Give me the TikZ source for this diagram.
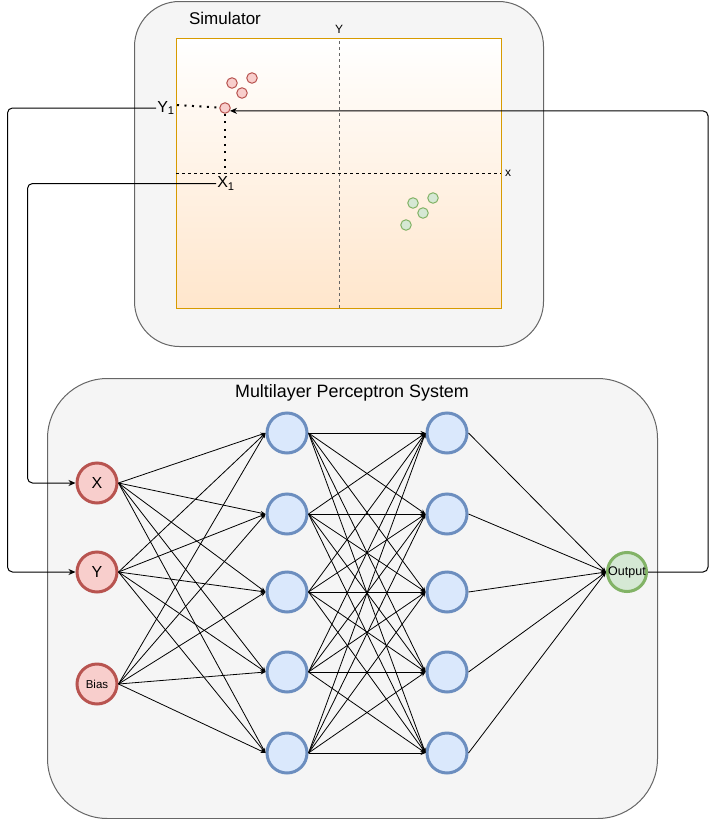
\documentclass[tikz,border=0pt]{standalone}
\usepackage{fontspec}
\setmainfont{Liberation Sans}
\usetikzlibrary{arrows.meta, positioning}
\definecolor{panelfill}{HTML}{F5F5F5}
\definecolor{panelline}{HTML}{666666}
\definecolor{plotline}{HTML}{D79B00}
\definecolor{plotfill}{HTML}{FFE6CC}
\definecolor{redfill}{HTML}{F8CECC}
\definecolor{redline}{HTML}{B85450}
\definecolor{bluefill}{HTML}{DAE8FC}
\definecolor{blueline}{HTML}{6C8EBF}
\definecolor{greenfill}{HTML}{D5E8D4}
\definecolor{greenline}{HTML}{82B366}

\begin{document}
\begin{tikzpicture}[
  x=1pt, y=-1pt,
  panel/.style={rectangle, draw=panelline, fill=panelfill, line width=1pt,
                anchor=north west, inner sep=0pt},
  title/.style={font=\fontsize{17}{20}\selectfont},
  lbl/.style={font=\fontsize{16}{19}\selectfont, inner sep=1pt},
  axlbl/.style={font=\fontsize{12}{14}\selectfont, inner sep=1pt},
  axis/.style={line width=1pt, dash pattern=on 3pt off 3pt},
  guide/.style={line width=2pt, dash pattern=on 2pt off 5.5pt},
  redpt/.style={circle, draw=redline, fill=redfill, line width=1pt,
                minimum size=10.5pt, inner sep=0pt},
  greenpt/.style={circle, draw=greenline, fill=greenfill, line width=1pt,
                  minimum size=10.5pt, inner sep=0pt},
  innode/.style={circle, draw=redline, fill=redfill, line width=3pt,
                 minimum size=40pt, inner sep=0pt, font=\fontsize{16}{19}\selectfont},
  hidnode/.style={circle, draw=blueline, fill=bluefill, line width=3pt,
                  minimum size=40pt, inner sep=0pt},
  outnode/.style={circle, draw=greenline, fill=greenfill, line width=3pt,
                  minimum size=39pt, inner sep=0pt, font=\fontsize{12.5}{14}\selectfont},
  arr/.style={-{Stealth[length=5pt, width=4pt]}, line width=0.8pt},
  feed/.style={-{Stealth[length=7pt, width=6pt]}, line width=1pt, rounded corners=5pt},
]
\useasboundingbox (0,0) rectangle (717,819);

% Simulator panel
\node[panel, rounded corners=45pt, minimum width=409pt, minimum height=345pt]
  (sim) at (134,1) {};
\node[title] (simtitle) at (225,18) {Simulator};
\node[rectangle, draw=plotline, line width=1pt, top color=white, bottom color=plotfill,
      anchor=north west, inner sep=0pt, minimum width=325pt, minimum height=270pt]
  (plot) at (176,38) {};

% Axes
\draw[axis, panelline] (339,41) -- (339,308);
\draw[axis] (176,173) -- (501,173);
\node[axlbl] (ylbl) at (339,29) {Y};
\node[axlbl] (xlbl) at (508,173) {x};

% Samples
\node[redpt] (r1) at (232,83) {};
\node[redpt] (r2) at (252,78) {};
\node[redpt] (r3) at (242,93) {};
\node[redpt] (r4) at (225,108) {};
\node[greenpt] (g1) at (413,203) {};
\node[greenpt] (g2) at (433,198) {};
\node[greenpt] (g3) at (423,213) {};
\node[greenpt] (g4) at (406,225) {};

% Coordinates of the sample
\node[lbl] (ylab) at (166,108) {Y\textsubscript{1}};
\node[lbl] (xlab) at (226,183.5) {X\textsubscript{1}};
\draw[guide] (177,105) -- (r4);
\draw[guide] (r4) -- (r4 |- 0,172);

% Multilayer Perceptron panel
\node[panel, rounded corners=60pt, minimum width=610pt, minimum height=440pt]
  (mlp) at (47,378) {};
\node[title, font=\fontsize{17.9}{21}\selectfont] (mlptitle) at (352,393) {Multilayer Perceptron System};

% Input layer
\node[innode] (in1) at (97,483) {X};
\node[innode] (in2) at (97,572) {Y};
\node[innode, font=\fontsize{11.5}{13}\selectfont] (in3) at (97,684) {Bias};

% Hidden layers
\node[hidnode] (ha1) at (287,433) {};
\node[hidnode] (ha2) at (287,514) {};
\node[hidnode] (ha3) at (287,592) {};
\node[hidnode] (ha4) at (287,672) {};
\node[hidnode] (ha5) at (287,753) {};
\node[hidnode, right=117pt of ha1] (hb1) {};
\node[hidnode, right=117pt of ha2] (hb2) {};
\node[hidnode, right=117pt of ha3] (hb3) {};
\node[hidnode, right=117pt of ha4] (hb4) {};
\node[hidnode, right=117pt of ha5] (hb5) {};

% Output
\node[outnode] (out) at (627,572) {Output};

% Weights
\foreach \i in {1,2,3}
  \foreach \j in {1,...,5}
    \draw[arr] (in\i.east) -- (ha\j.west);
\foreach \i in {1,...,5}
  \foreach \j in {1,...,5}
    \draw[arr] (ha\i.east) -- (hb\j.west);
\foreach \i in {1,...,5}
  \draw[arr] (hb\i.east) -- (out.west);

% Feedback loop
\draw[feed] (out.east) -- ++(60,0) |- (r4.-30);
\draw[feed] (ylab.west) -| ([xshift=-68pt]in2.west) -- (in2.west);
\draw[feed] (xlab.west) -| ([xshift=-48pt]in1.west) -- (in1.west);

\end{tikzpicture}
\end{document}
